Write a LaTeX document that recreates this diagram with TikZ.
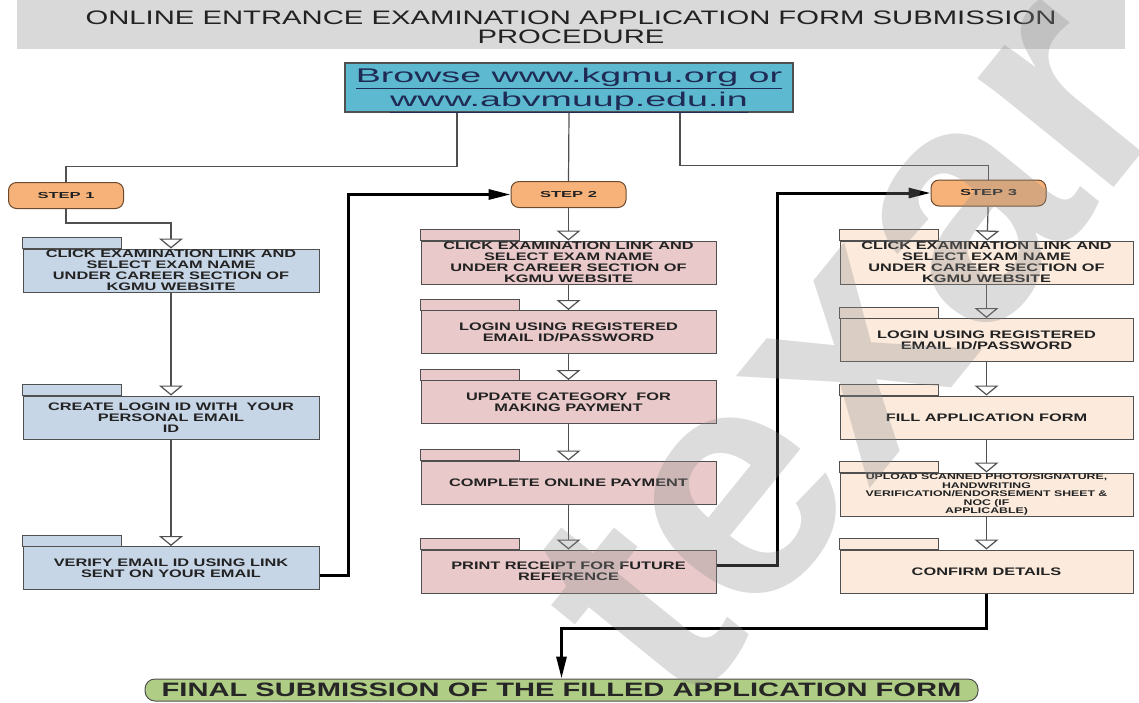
\documentclass[tikz,border=0pt]{standalone}
\usepackage{fontspec}
\setmainfont{Liberation Sans}
\newfontfamily\widesf[FakeStretch=1.5]{Liberation Sans}
\newfontfamily\widersf[FakeStretch=1.9]{Liberation Sans}
\usetikzlibrary{arrows.meta}

\definecolor{titlegray}{HTML}{D9D9D9}
\definecolor{webfill}{HTML}{5DB9CF}
\definecolor{webtext}{HTML}{1F2A55}
\definecolor{stepfill}{HTML}{F7B27A}
\definecolor{stepline}{HTML}{6B4A2E}
\definecolor{leftfill}{HTML}{C7D6E7}
\definecolor{midfill}{HTML}{E9C9C9}
\definecolor{rightfill}{HTML}{FCEBDD}
\definecolor{finalfill}{HTML}{AFCD85}
\definecolor{boxline}{HTML}{505050}
\definecolor{inktext}{HTML}{222222}

\tikzset{
  headband/.style={fill=titlegray, minimum width=1108pt, minimum height=49pt,
    inner sep=0pt},
  headtext/.style={align=center, text=inktext, inner sep=0pt,
    font=\widesf\fontsize{19.5}{19}\selectfont},
  webbox/.style={draw=boxline, line width=1.2pt, fill=webfill, minimum width=448pt,
    minimum height=49pt, inner sep=0pt},
  webtext/.style={align=center, text=webtext, inner sep=0pt,
    font=\widersf\fontsize{19.8}{24}\selectfont},
  stepnode/.style={draw=stepline, line width=1pt, fill=stepfill, rounded corners=8pt,
    minimum width=115pt, minimum height=26pt, inner sep=0pt, text=inktext,
    font=\widersf\bfseries\fontsize{8.7}{9}\selectfont},
  folder/.style={draw=boxline, line width=1pt, minimum width=295pt, minimum height=43pt,
    inner sep=0pt, align=center, text=inktext,
    font=\widesf\bfseries\fontsize{10.9}{11}\selectfont},
  tinytext/.style={font=\widesf\bfseries\fontsize{8.2}{8.6}\selectfont},
  tab/.style={draw=boxline, line width=1pt},
  finalbox/.style={draw=boxline, line width=1pt, fill=finalfill, rounded corners=10pt,
    minimum width=833pt, minimum height=22pt, inner sep=0pt, text=black!85,
    font=\widesf\bfseries\fontsize{19.4}{20}\selectfont},
  wire/.style={draw=boxline, line width=1.2pt},
  flow/.style={draw=boxline, line width=1.2pt,
    -{Triangle[open,width=24pt,length=10pt]}},
  jump/.style={draw=black, line width=3pt, -{Triangle[width=10pt,length=22pt]}},
  watermark/.style={text=black!45, opacity=0.3, rotate=51,
    font=\bfseries\fontsize{330}{330}\selectfont}
}

\begin{document}
\begin{tikzpicture}[x=1pt,y=-1pt]
  \useasboundingbox (0,0) rectangle (1139,702);

  \node[headband] (head) at (571,24.5) {};
  \node[headtext] (headtxt) at ([yshift=-3pt]head.center)
    {ONLINE ENTRANCE EXAMINATION APPLICATION FORM SUBMISSION\\PROCEDURE};
  \node[webbox] (web) at (569,87.5) {};
  \node[webtext] (webtxt) at ([yshift=-3pt]web.center)
    {\underline{Browse www.kgmu.org or}\\\underline{www.abvmuup.edu.in}};

  % steps
  \node[stepnode] (s1) at (66,195.5) {STEP 1};
  \node[stepnode] (s2) at (568.5,194.5) {STEP 2};
  \node[stepnode] (s3) at (988.5,193) {STEP 3};

  % step 1 column
  \node[folder, fill=leftfill, minimum width=296pt] (l1) at (171,270.5)
    {CLICK EXAMINATION LINK AND\\SELECT EXAM NAME\\UNDER CAREER SECTION OF\\KGMU WEBSITE};
  \node[folder, fill=leftfill, minimum width=296pt] (l2) at (171,417.5)
    {CREATE LOGIN ID WITH\ \ YOUR\\PERSONAL EMAIL\\ID};
  \node[folder, fill=leftfill, minimum width=296pt] (l3) at (171,568)
    {VERIFY EMAIL ID USING LINK\\SENT ON YOUR EMAIL};

  % step 2 column
  \node[folder, fill=midfill] (m1) at (568.5,262.5)
    {CLICK EXAMINATION LINK AND\\SELECT EXAM NAME\\UNDER CAREER SECTION OF\\KGMU WEBSITE};
  \node[folder, fill=midfill] (m2) at (568.5,332)
    {LOGIN USING REGISTERED\\EMAIL ID/PASSWORD};
  \node[folder, fill=midfill] (m3) at (568.5,402)
    {UPDATE CATEGORY\ \ FOR\\MAKING PAYMENT};
  \node[folder, fill=midfill] (m4) at (568.5,482.5)
    {COMPLETE ONLINE PAYMENT};
  \node[folder, fill=midfill] (m5) at (568.5,571.5)
    {PRINT RECEIPT FOR FUTURE\\REFERENCE};

  % step 3 column
  \node[folder, fill=rightfill, minimum width=293pt] (r1) at (986.5,262.5)
    {CLICK EXAMINATION LINK AND\\SELECT EXAM NAME\\UNDER CAREER SECTION OF\\KGMU WEBSITE};
  \node[folder, fill=rightfill, minimum width=293pt] (r2) at (986.5,340)
    {LOGIN USING REGISTERED\\EMAIL ID/PASSWORD};
  \node[folder, fill=rightfill, minimum width=293pt] (r3) at (986.5,417.5)
    {FILL APPLICATION FORM};
  \node[folder, tinytext, fill=rightfill, minimum width=293pt] (r4) at (986.5,494.5)
    {UPLOAD SCANNED PHOTO/SIGNATURE,\\HANDWRITING\\VERIFICATION/ENDORSEMENT SHEET \&\\NOC (IF\\APPLICABLE)};
  \node[folder, fill=rightfill, minimum width=293pt] (r5) at (986.5,571.5)
    {CONFIRM DETAILS};

  \foreach \b/\c in {l1/leftfill, l2/leftfill, l3/leftfill,
      m1/midfill, m2/midfill, m3/midfill, m4/midfill, m5/midfill,
      r1/rightfill, r2/rightfill, r3/rightfill, r4/rightfill, r5/rightfill}
    \draw[tab, fill=\c] (\b.north west) rectangle ++(99,-11);

  \node[finalbox] (final) at (561.5,690)
    {FINAL SUBMISSION OF THE FILLED APPLICATION FORM};

  % website to steps
  \draw[wire] ([xshift=-112pt]web.south) -- ++(0,54) -| (s1.north);
  \draw[wire] (web.south) -- (s2.north);
  \draw[wire] ([xshift=111pt]web.south) -- ++(0,53) -| (s3.north);

  % flow inside columns
  \draw[flow] (s1.south) -- ++(0,14) -| (l1.north);
  \draw[flow] (l1) -- (l2);
  \draw[flow] (l2) -- (l3);
  \draw[flow] (s2) -- (m1);
  \draw[flow] (m1) -- (m2);
  \draw[flow] (m2) -- (m3);
  \draw[flow] (m3) -- (m4);
  \draw[flow] (m4) -- (m5);
  \draw[flow] (s3) -- (r1);
  \draw[flow] (r1) -- (r2);
  \draw[flow] (r2) -- (r3);
  \draw[flow] (r3) -- (r4);
  \draw[flow] (r4) -- (r5);

  % jumps between steps
  \draw[jump] ([yshift=-7pt]l3.east) -- ++(29,0) |- (s2.west);
  \draw[jump] ([yshift=6.5pt]m5.east) -- ++(61,0) |- (s3.west);
  \draw[jump] (r5.south) -- ++(0,35) -| (final.north);

  \node[watermark] (mark) at (850,345) {texar};
\end{tikzpicture}
\end{document}
